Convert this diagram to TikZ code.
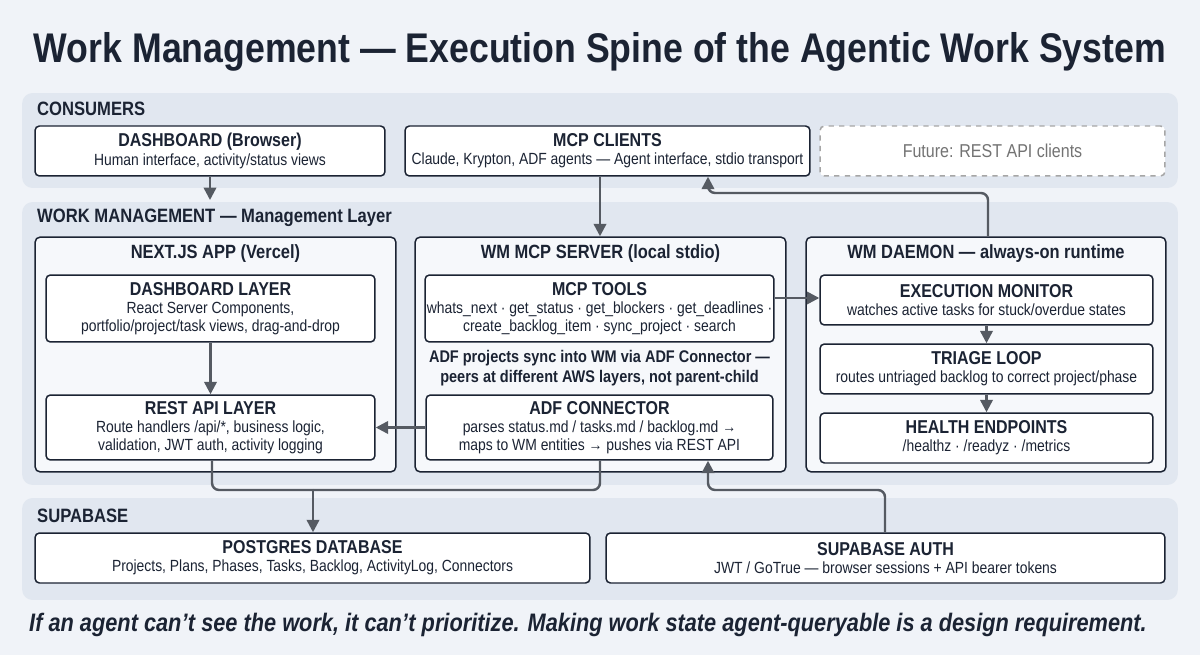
\documentclass[tikz,border=0pt]{standalone}
\usepackage{fontspec}
\setmainfont{Liberation Sans}[FakeStretch=0.86]
\usetikzlibrary{arrows.meta}
\definecolor{bg}{HTML}{F0F3F8}
\definecolor{band}{HTML}{E1E7F0}
\definecolor{ink}{HTML}{1B2333}
\definecolor{conn}{HTML}{555A62}
\newcommand\hdf{\fontsize{10.6}{12.4}\bfseries\selectfont}
\begin{document}
\begin{tikzpicture}[x=0.02cm,y=-0.02cm,
  band/.style={draw=none,fill=band,rounded corners=6pt,inner sep=0},
  box/.style={draw=ink,line width=0.85pt,fill=white,rounded corners=2.5pt,align=center,inner sep=1pt,text=ink,font=\fontsize{9.2}{10.4}\selectfont},
  panel/.style={draw=ink,line width=0.85pt,fill=bg!60!white,rounded corners=3pt,inner sep=0},
  lbl/.style={anchor=west,text=ink,font=\fontsize{11}{12}\bfseries\selectfont},
  ptitle/.style={text=ink,font=\fontsize{10.9}{12}\bfseries\selectfont},
  arr/.style={draw=conn,line width=1.4pt,-{Triangle[length=7pt,width=7pt]},rounded corners=4pt},
  ln/.style={draw=conn,line width=1.4pt,rounded corners=4pt}]
\fill[bg] (0,0) rectangle (1200,655);
\useasboundingbox (0,0) rectangle (1200,655);
\node[text=ink,font=\fontsize{23.6}{26}\bfseries\selectfont] (title) at (600,52) {Work Management — Execution Spine of the Agentic Work System};
% bands
\node[band,minimum width=23.12cm,minimum height=1.9cm] (b1) at (600,140.5) {};
\node[band,minimum width=23.12cm,minimum height=5.66cm] (b2) at (600,343.5) {};
\node[band,minimum width=23.12cm,minimum height=2.04cm] (b3) at (600,549) {};
\node[lbl] (l1) at (31,109) {CONSUMERS};
\node[lbl] (l2) at (31,218) {WORK MANAGEMENT — Management Layer};
\node[lbl] (l3) at (31,516) {SUPABASE};
% consumers
\node[box,minimum width=7cm,minimum height=1cm] (dash) at (210,151) {{\hdf DASHBOARD (Browser)}\\Human interface, activity/status views};
\node[box,minimum width=8.1cm,minimum height=1cm] (mcpc) at (607.5,151) {{\hdf MCP CLIENTS}\\Claude, Krypton, ADF agents — Agent interface, stdio transport};
\node[box,draw=gray!70,dashed,text=gray!90!black,minimum width=6.9cm,minimum height=1cm,font=\fontsize{10.6}{12}\selectfont] (fut) at (992.5,151) {Future: REST API clients};
% panels
\node[panel,minimum width=7.22cm,minimum height=4.7cm] (nextp) at (215.5,354.5) {};
\node[panel,minimum width=7.42cm,minimum height=4.7cm] (mcpp) at (600.5,354.5) {};
\node[panel,minimum width=7.2cm,minimum height=4.7cm] (daep) at (986,354.5) {};
\node[ptitle] (t1) at (215.5,254) {NEXT.JS APP (Vercel)};
\node[ptitle] (t2) at (600.5,254) {WM MCP SERVER (local stdio)};
\node[ptitle] (t3) at (986,254) {WM DAEMON — always-on runtime};
\node[box,minimum width=6.58cm,minimum height=1.34cm] (dl) at (210.5,308.5) {{\hdf DASHBOARD LAYER}\\React Server Components,\\portfolio/project/task views, drag-and-drop};
\node[box,minimum width=6.58cm,minimum height=1.3cm] (rest) at (210.5,427.5) {{\hdf REST API LAYER}\\Route handlers /api/*, business logic,\\validation, JWT auth, activity logging};
\node[box,minimum width=6.94cm,minimum height=1.34cm] (tools) at (599.5,308.5) {{\hdf MCP TOOLS}\\whats\_next · get\_status · get\_blockers · get\_deadlines ·\\create\_backlog\_item · sync\_project · search};
\node[align=center,text=ink,font=\fontsize{9.6}{11.2}\bfseries\selectfont] (note) at (599.5,368) {ADF projects sync into WM via ADF Connector —\\peers at different AWS layers, not parent-child};
\node[box,minimum width=6.94cm,minimum height=1.3cm] (adf) at (599.5,427.5) {{\hdf ADF CONNECTOR}\\parses status.md / tasks.md / backlog.md →\\maps to WM entities → pushes via REST API};
\node[box,minimum width=6.66cm,minimum height=1cm] (exec) at (986.5,300) {{\hdf EXECUTION MONITOR}\\watches active tasks for stuck/overdue states};
\node[box,minimum width=6.66cm,minimum height=1cm] (tri) at (986.5,369) {{\hdf TRIAGE LOOP}\\routes untriaged backlog to correct project/phase};
\node[box,minimum width=6.66cm,minimum height=1cm] (hlt) at (986.5,438) {{\hdf HEALTH ENDPOINTS}\\/healthz · /readyz · /metrics};
% supabase
\node[box,minimum width=11.1cm,minimum height=1cm] (pg) at (312.5,558) {{\hdf POSTGRES DATABASE}\\Projects, Plans, Phases, Tasks, Backlog, ActivityLog, Connectors};
\node[box,minimum width=11.18cm,minimum height=1cm] (auth) at (885.5,558) {{\hdf SUPABASE AUTH}\\JWT / GoTrue — browser sessions + API bearer tokens};
\node[text=ink,font=\fontsize{14.4}{16}\bfseries\itshape\selectfont] (foot) at (588,625) {If an agent can’t see the work, it can’t prioritize. Making work state agent-queryable is a design requirement.};
% connectors
\coordinate (dend) at (210,200);
\draw[arr] (dash.south) -- (dend);
\draw[arr] (mcpc.south -| 600,0) -- (mcpp.north -| 600,0);
\draw[arr] (daep.north -| 988,0) -- (988,193) -- (708,193) -- (mcpc.south -| 708,0);
\draw[arr] (tools.east |- 0,298) -- (exec.west |- 0,298);
\draw[arr] (adf.west) -- (rest.east);
\draw[arr] (dl.south) -- (rest.north);
\draw[arr] (exec.south) -- (tri.north);
\draw[arr] (tri.south) -- (hlt.north);
\coordinate (j) at (313,490);
\draw[ln] (rest.south -| 212,0) -- (212,490) -- (j);
\draw[ln] (adf.south -| 600,0) -- (600,490) -- (j);
\draw[arr] (j) -- (pg.north -| j);
\draw[arr] (auth.north -| 885,0) -- (885,490) -- (708,490) -- (adf.south -| 708,0);
\end{tikzpicture}
\end{document}
